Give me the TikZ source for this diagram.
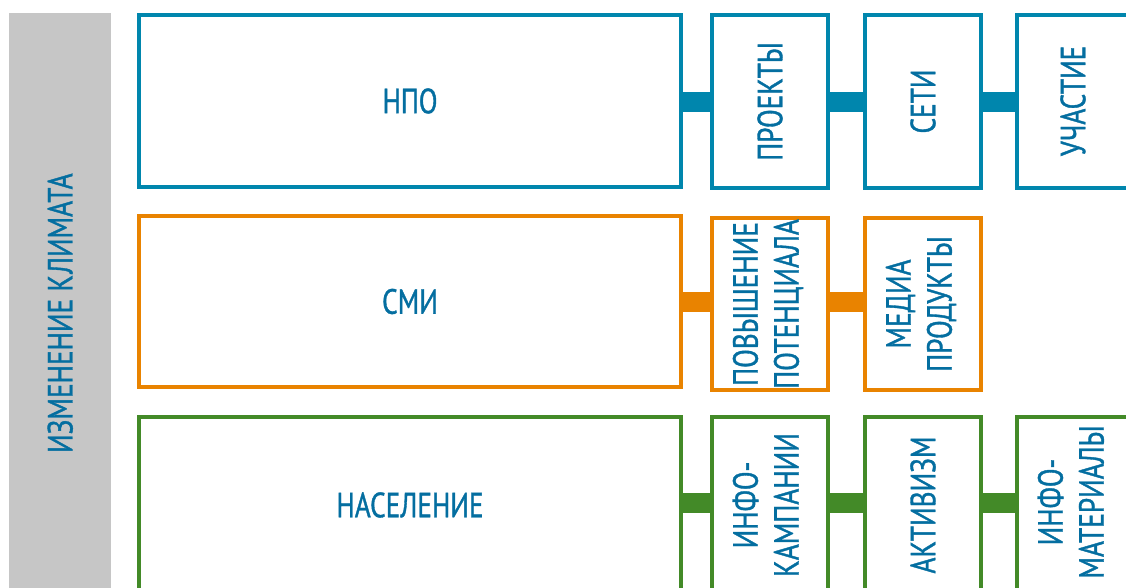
\documentclass[tikz,border=0pt]{standalone}
\usepackage{fontspec}
\setmainfont[FakeStretch=0.78,FakeBold=1]{PT Sans}
\definecolor{boxblue}{RGB}{0,134,173}
\definecolor{textblue}{RGB}{4,110,160}
\definecolor{boxorange}{RGB}{233,131,0}
\definecolor{boxgreen}{RGB}{67,138,40}
\definecolor{bargrey}{RGB}{198,198,198}
\begin{document}
\begin{tikzpicture}[x=1pt,y=-1pt,
  box/.style={draw, line width=4pt, outer sep=2pt, anchor=north west, inner sep=0pt,
    text=textblue, font=\fontsize{35}{41}\selectfont, align=center},
  bigbox/.style={box, minimum width=542pt},
  smallbox/.style={box, minimum width=116pt},
  conn/.style={line width=20pt}]
\useasboundingbox (0,0) rectangle (1126,588);
\clip (0,0) rectangle (1126,588);
% grey side bar
\node[fill=bargrey, anchor=north west, minimum width=102pt, minimum height=600pt, inner sep=0pt,
  text=textblue, font=\fontsize{35}{41}\selectfont] (bar) at (9,13)
  {\rotatebox{90}{ИЗМЕНЕНИЕ КЛИМАТА}};
% row 1
\node[bigbox, draw=boxblue, minimum height=172pt] (npo) at (137,13) {НПО};
\node[smallbox, draw=boxblue, minimum height=173pt] (proj) at (710,13) {\rotatebox{90}{ПРОЕКТЫ}};
\node[smallbox, draw=boxblue, minimum height=173pt] (seti) at (863,13) {\rotatebox{90}{СЕТИ}};
\node[smallbox, draw=boxblue, minimum height=173pt, minimum width=200pt] (uch) at (1015,13) {};
\node[text=textblue, font=\fontsize{35}{41}\selectfont, inner sep=0pt] (uchtxt) at (1073,101) {\rotatebox{90}{УЧАСТИЕ}};
\draw[conn, boxblue] ([yshift=-1pt]npo.east) -- ([yshift=-1pt]npo.east -| proj.west);
\draw[conn, boxblue] ([yshift=-1pt]proj.east |- npo.east) -- ([yshift=-1pt]seti.west |- npo.east);
\draw[conn, boxblue] ([yshift=-1pt]seti.east |- npo.east) -- ([yshift=-1pt]uch.west |- npo.east);
% row 2
\node[bigbox, draw=boxorange, minimum height=171pt] (smi) at (137,214) {СМИ};
\node[smallbox, draw=boxorange, minimum height=172pt] (pov) at (710,216)
  {\rotatebox{90}{\begin{tabular}{@{}c@{}}ПОВЫШЕНИЕ\\ПОТЕНЦИАЛА\end{tabular}}};
\node[smallbox, draw=boxorange, minimum height=172pt] (media) at (863,216)
  {\rotatebox{90}{\begin{tabular}{@{}c@{}}МЕДИА\\ПРОДУКТЫ\end{tabular}}};
\draw[conn, boxorange] (smi.east) -- (smi.east -| pov.west);
\draw[conn, boxorange] (pov.east |- smi.east) -- (media.west |- smi.east);
% row 3
\node[bigbox, draw=boxgreen, minimum height=176pt] (nas) at (137,415) {НАСЕЛЕНИЕ};
\node[smallbox, draw=boxgreen, minimum height=176pt] (ik) at (710,415)
  {\rotatebox{90}{\begin{tabular}{@{}c@{}}ИНФО-\\КАМПАНИИ\end{tabular}}};
\node[smallbox, draw=boxgreen, minimum height=176pt] (akt) at (863,415)
  {\rotatebox{90}{АКТИВИЗМ}};
\node[smallbox, draw=boxgreen, minimum height=176pt, minimum width=200pt] (im) at (1015,415) {};
\node[text=textblue, font=\fontsize{35}{41}\selectfont, inner sep=0pt] (imtxt) at (1075,502)
  {\rotatebox{90}{\begin{tabular}{@{}c@{}}ИНФО-\\МАТЕРИАЛЫ\end{tabular}}};
\draw[conn, boxgreen] ([yshift=2pt]nas.east) -- ([yshift=2pt]nas.east -| ik.west);
\draw[conn, boxgreen] ([yshift=2pt]ik.east) -- ([yshift=2pt]ik.east -| akt.west);
\draw[conn, boxgreen] ([yshift=2pt]akt.east) -- ([yshift=2pt]akt.east -| im.west);
\end{tikzpicture}
\end{document}
